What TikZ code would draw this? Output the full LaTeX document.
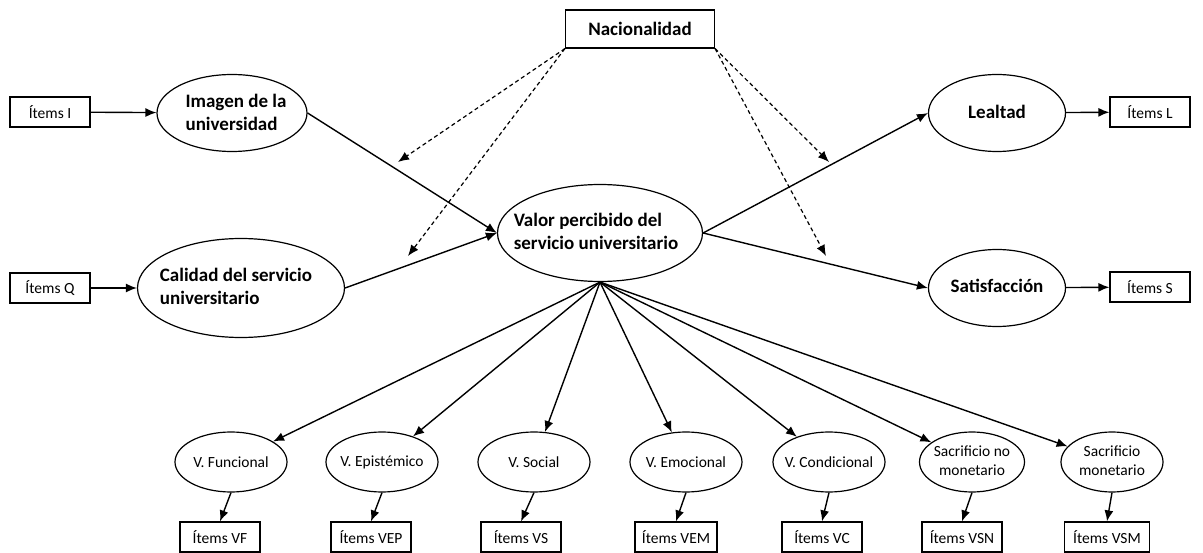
\documentclass[tikz,border=0pt]{standalone}
\usepackage{fontspec}
\setmainfont{Carlito}
\usetikzlibrary{shapes.geometric,arrows.meta}
\begin{document}
\begin{tikzpicture}[x=1pt,y=-1pt,
  lat/.style={draw,ellipse,line width=1.2pt,inner sep=0pt},
  sml/.style={lat,minimum width=112pt,minimum height=60pt},
  box/.style={draw,rectangle,line width=1.2pt,inner sep=0pt,minimum width=80pt,minimum height=30pt,font=\fontsize{15.5}{18}\selectfont},
  bt/.style={font=\bfseries\fontsize{19}{23}\selectfont,align=left,inner sep=0pt},
  st/.style={font=\fontsize{15.5}{19}\selectfont,align=center,inner sep=0pt},
  arr/.style={line width=1.4pt,-{Latex[length=11pt,width=9pt]}},
  darr/.style={line width=1.2pt,dash pattern=on 4pt off 3pt,-{Latex[length=11pt,width=9pt]}},
]
\useasboundingbox (0,0) rectangle (1203,553);

% left side
\node[box] (ii) at (50,112) {Ítems I};
\node[lat,minimum width=150pt,minimum height=77pt] (img) at (232,113) {};
\node[bt] (imgt) at (236,112) {Imagen de la\\universidad};
\node[box] (iq) at (50,288) {Ítems Q};
\node[lat,minimum width=207pt,minimum height=99pt] (cal) at (241,288) {};
\node[bt] (calt) at (236,286) {Calidad del servicio\\universitario};

% centre
\node[box,minimum width=149pt,minimum height=38pt,font=\bfseries\fontsize{19}{22}\selectfont] (nac) at (640,29) {Nacionalidad};
\node[lat,minimum width=205pt,minimum height=97pt] (val) at (600,233) {};
\node[bt] (valt) at (596,231) {Valor percibido del\\servicio universitario};

% right side
\node[lat,minimum width=137pt,minimum height=77pt] (lea) at (997,113) {};
\node[bt] (leat) at (997,112) {Lealtad};
\node[lat,minimum width=137pt,minimum height=77pt] (sat) at (997,288) {};
\node[bt] (satt) at (997,286) {Satisfacción};
\node[box] (il) at (1150,112) {Ítems L};
\node[box] (is) at (1150,287) {Ítems S};

% bottom latent variables
\node[sml] (vf) at (231,462) {};
\node[st] (vft) at (231,462) {V. Funcional};
\node[sml] (vep) at (382,462) {};
\node[st] (vept) at (382,462) {V. Epistémico};
\node[sml] (vs) at (534,462) {};
\node[st] (vst) at (534,462) {V. Social};
\node[sml] (vem) at (686,462) {};
\node[st] (vemt) at (686,462) {V. Emocional};
\node[sml] (vc) at (829,462) {};
\node[st] (vct) at (829,462) {V. Condicional};
\node[sml,minimum width=105pt] (vsn) at (972,462) {};
\node[st] (vsnt) at (972,461) {Sacrificio no\\monetario};
\node[sml,minimum width=102pt] (vsm) at (1112,462) {};
\node[st] (vsmt) at (1112,461) {Sacrificio\\monetario};

% bottom item boxes
\node[box] (ivf) at (220,537) {Ítems VF};
\node[box] (ivep) at (371,537) {Ítems VEP};
\node[box] (ivs) at (521,537) {Ítems VS};
\node[box,minimum width=82pt] (ivem) at (676,537) {Ítems VEM};
\node[box] (ivc) at (822,537) {Ítems VC};
\node[box] (ivsn) at (962,537) {Ítems VSN};
\node[box,minimum width=85pt] (ivsm) at (1107,537) {Ítems VSM};

% connectors
\draw[arr] (ii) -- (img);
\draw[arr] (iq) -- (cal);
\draw[arr] (img.east) -- (val.west);
\draw[arr] (cal.east) -- (val.west);
\draw[arr] (val.east) -- (lea.west);
\draw[arr] (val.east) -- (sat.west);
\draw[arr] (lea) -- (il);
\draw[arr] (sat) -- (is);

\foreach \n in {vf,vep,vs,vem,vc,vsn,vsm}
  \draw[arr] (val.south) -- (\n);

\foreach \a/\b in {vf/ivf,vep/ivep,vs/ivs,vem/ivem,vc/ivc,vsn/ivsn,vsm/ivsm}
  \draw[arr] (\a.south) -- (\b.north);

% moderating (dashed) arrows
\coordinate (d1) at (398,162);
\coordinate (d2) at (408,256);
\coordinate (d3) at (829,162);
\coordinate (d4) at (826,256);
\draw[darr] (nac.south west) -- (d1);
\draw[darr] (nac.south west) -- (d2);
\draw[darr] (nac.south east) -- (d3);
\draw[darr] (nac.south east) -- (d4);
\end{tikzpicture}
\end{document}
